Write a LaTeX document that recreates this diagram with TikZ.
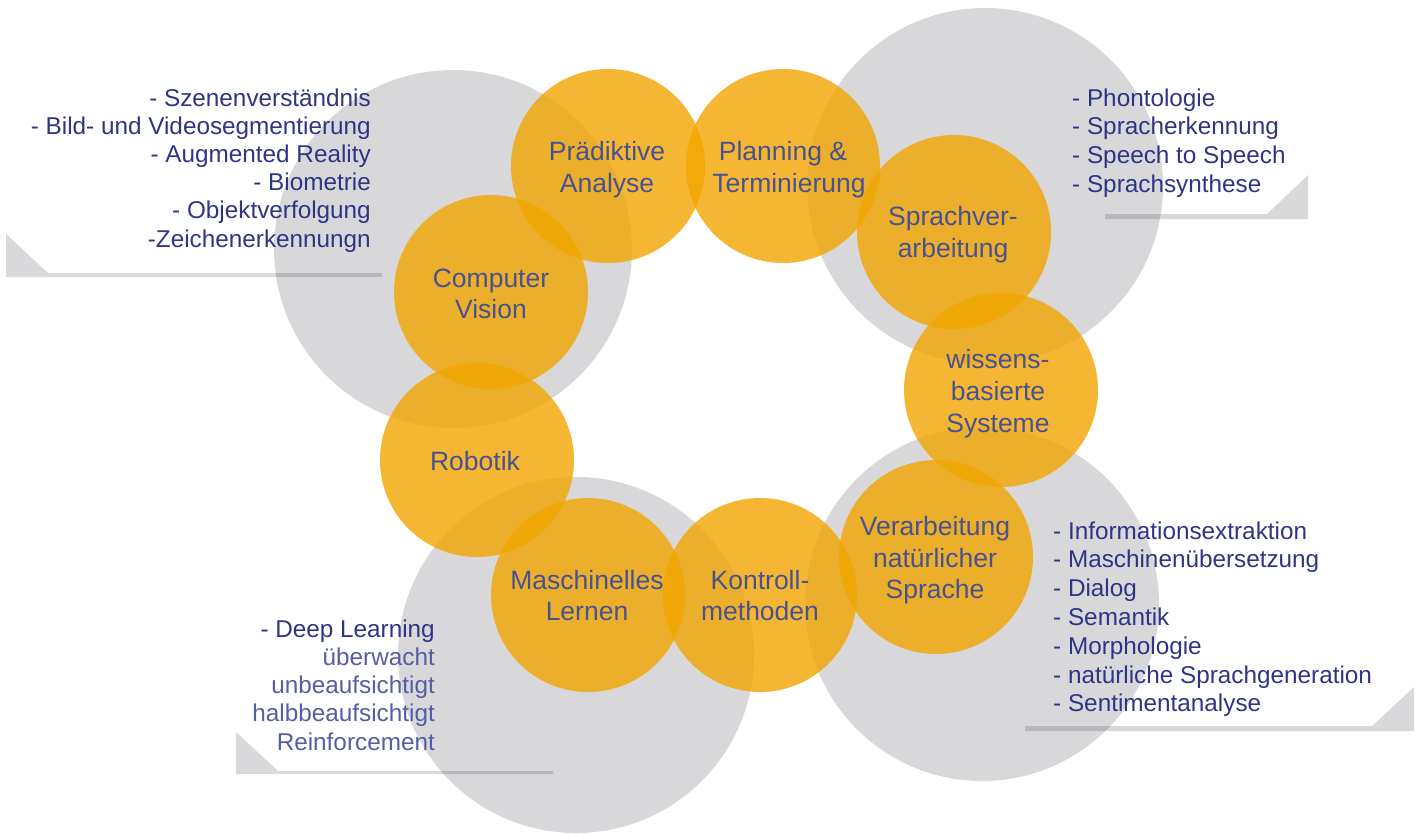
\documentclass[tikz,border=0pt]{standalone}
\usepackage{fontspec}
\setmainfont{Liberation Sans}
\definecolor{orangeC}{RGB}{242,165,0}
\definecolor{ringgray}{RGB}{216,216,218}
\definecolor{bandgray}{RGB}{30,30,40}
\definecolor{listblue}{RGB}{46,53,134}
\definecolor{topicblue}{RGB}{72,82,145}
\definecolor{lightblue}{RGB}{84,94,165}
\begin{document}
\begin{tikzpicture}[x=1pt,y=-1pt,
  field/.style={circle, fill=ringgray, minimum size=#1, inner sep=0pt},
  topic/.style={circle, fill=orangeC, fill opacity=0.8, minimum size=194pt, inner sep=0pt},
  topictext/.style={anchor=base, text=topicblue, inner sep=0pt, font=\fontsize{26.5}{32}\selectfont},
  itemE/.style={anchor=base east, text=listblue, inner sep=0pt, font=\fontsize{24.3}{28}\selectfont},
  itemW/.style={anchor=base west, text=listblue, inner sep=0pt, font=\fontsize{24.3}{28}\selectfont},
  band/.style={fill=bandgray, fill opacity=0.17}]
\useasboundingbox (0,0) rectangle (1423,833);

% large grey fields behind the topic groups
\node[field=358pt] (fieldCV) at (453,249) {};
\node[field=356pt] (fieldSV) at (985,186) {};
\node[field=354pt] (fieldNL) at (982,604) {};
\node[field=356pt] (fieldML) at (576,655) {};

% corner brackets under the lists
\fill[band] (6,234) -- (48,273) -- (382,273) -- (382,277) -- (6,277) -- cycle;
\fill[band] (1308,175) -- (1308,219) -- (1105,219) -- (1105,214) -- (1267,214) -- cycle;
\fill[band] (1414,687) -- (1414,731) -- (1025,731) -- (1025,726) -- (1372,726) -- cycle;
\fill[band] (236,732) -- (278,771) -- (553,771) -- (553,774) -- (236,774) -- cycle;

% ring of topic circles
\node[topic] (pa) at (608,166) {};
\node[topic] (pt) at (783,166) {};
\node[topic] (sv) at (954,232) {};
\node[topic] (wb) at (1001,390) {};
\node[topic] (vn) at (936,557) {};
\node[topic] (km) at (760,595) {};
\node[topic] (ml) at (588,595) {};
\node[topic] (rb) at (477,460) {};
\node[topic] (cv) at (491,292) {};

% topic labels, one node per line on its baseline
\node[topictext] (pa1) at (607,160) {Prädiktive};
\node[topictext] (pa2) at (607,192) {Analyse};
\node[topictext] (pt1) at (783,160) {Planning \&};
\node[topictext] (pt2) at (789,192) {Terminierung};
\node[topictext] (sv1) at (953,225) {Sprachver-};
\node[topictext] (sv2) at (953,257) {arbeitung};
\node[topictext] (wb1) at (998,368) {wissens-};
\node[topictext] (wb2) at (998,400) {basierte};
\node[topictext] (wb3) at (998,432) {Systeme};
\node[topictext] (vn1) at (935,535) {Verarbeitung};
\node[topictext] (vn2) at (935,567) {natürlicher};
\node[topictext] (vn3) at (935,598) {Sprache};
\node[topictext] (km1) at (760,589) {Kontroll-};
\node[topictext] (km2) at (760,620) {methoden};
\node[topictext] (ml1) at (587,589) {Maschinelles};
\node[topictext] (ml2) at (587,620) {Lernen};
\node[topictext] (rb1) at (475,470) {Robotik};
\node[topictext] (cv1) at (491,287) {Computer};
\node[topictext] (cv2) at (491,318) {Vision};

% computer vision subtopics
\foreach \t [count=\i from 0] in {- Szenenverständnis, - Bild- und Videosegmentierung,
    - Augmented Reality, - Biometrie, - Objektverfolgung, -Zeichenerkennungn}
  \node[itemE] (cvitem\i) at (371,{106+28.2*\i}) {\t};

% speech processing subtopics
\foreach \t [count=\i from 0] in {- Phontologie, - Spracherkennung, - Speech to Speech, - Sprachsynthese}
  \node[itemW] (svitem\i) at (1072,{106+28.7*\i}) {\t};

% natural language subtopics
\foreach \t [count=\i from 0] in {- Informationsextraktion, - Maschinenübersetzung, - Dialog,
    - Semantik, - Morphologie, - natürliche Sprachgeneration, - Sentimentanalyse}
  \node[itemW] (nlitem\i) at (1053,{539+28.8*\i}) {\t};

% machine learning subtopics
\node[itemE] (mlitem0) at (435,637) {- Deep Learning};
\foreach \t [count=\i from 1] in {überwacht, unbeaufsichtigt, halbbeaufsichtigt, Reinforcement}
  \node[itemE, text=lightblue] (mlitem\i) at (435,{637+28.3*\i}) {\t};
\end{tikzpicture}
\end{document}
